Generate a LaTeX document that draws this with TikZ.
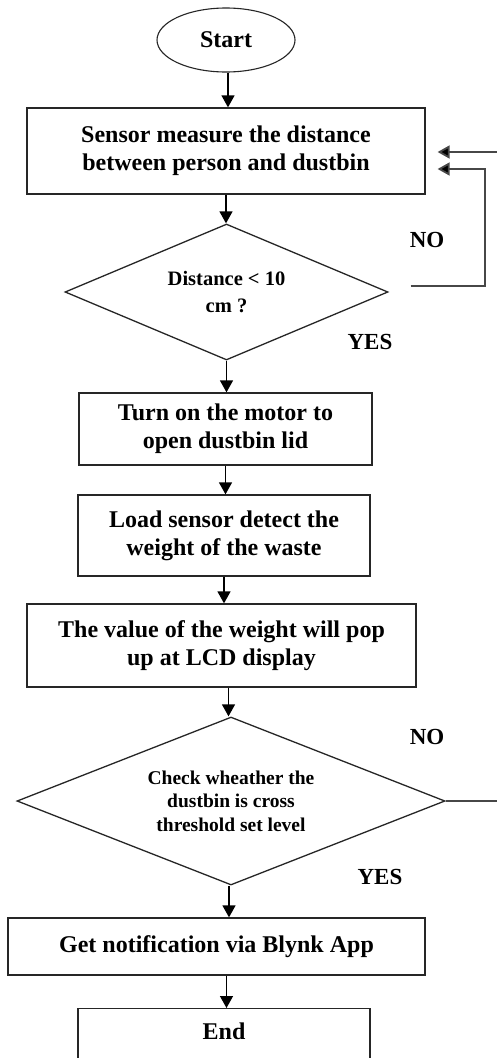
\documentclass[tikz,border=0pt]{standalone}
\usepackage{fontspec}
\setmainfont{Liberation Serif}
\usetikzlibrary{shapes.geometric,arrows.meta,calc}
\begin{document}
\begin{tikzpicture}[x=1pt,y=-1pt,
  every node/.style={font=\bfseries},
  boxnode/.style={draw=black!85, line width=1.3pt, rectangle, align=center,
    inner sep=0pt, font=\fontsize{24}{28}\selectfont\bfseries},
  startnode/.style={draw=black!85, line width=1.1pt, ellipse, inner sep=0pt,
    minimum width=138pt, minimum height=64pt, font=\fontsize{24}{28}\selectfont\bfseries},
  decide/.style={draw=black!85, line width=1.3pt, diamond, aspect=2.4,
    inner sep=0pt, align=center},
  flow/.style={draw=black, line width=1.3pt, -{Triangle[length=12pt,width=13pt]}},
  loopback/.style={draw=black!72, line width=1.8pt,
    -{Triangle[length=12pt,width=13pt,fill=black]}, shorten >=12pt},
  answer/.style={font=\fontsize{23}{26}\selectfont\bfseries}
]
\useasboundingbox (0,0) rectangle (496,1058);
\fill[white] (0,0) rectangle (496,1058);

% process steps
\node[startnode] (start) at (226,40) {Start};
\node[boxnode, minimum width=398pt, minimum height=86pt] (sense) at (226,151)
  {Sensor measure the distance\\between person and dustbin};
\node[decide, minimum width=323pt, minimum height=136pt,
  font=\fontsize{20.5}{27}\selectfont\bfseries] (near) at (226.5,292)
  {Distance < 10\\cm ?};
\node[boxnode, minimum width=293pt, minimum height=72pt] (motor) at (225.5,429)
  {Turn on the motor to\\open dustbin lid};
\node[boxnode, minimum width=292pt, minimum height=81pt] (load) at (224,535.5)
  {Load sensor detect the\\weight of the waste};
\node[boxnode, minimum width=389pt, minimum height=83pt] (lcd) at (221.5,645.5)
  {The value of the weight will pop\\up at LCD display};
\node[decide, minimum width=428pt, minimum height=168pt,
  font=\fontsize{19.5}{23.5}\selectfont\bfseries] (full) at (231,801)
  {Check wheather the\\dustbin is cross\\threshold set level};
\node[boxnode, minimum width=417pt, minimum height=57pt] (notify) at (216.5,946.5)
  {Get notification via Blynk App};
\node[boxnode, anchor=north, minimum width=292pt, text height=31pt, text depth=31pt]
  (finish) at (224,1008) {End};

% main flow
\draw[flow] ([xshift=2pt]start.south) -- ([xshift=2pt]start.south |- sense.north);
\draw[flow] (sense.south) -- (sense.south |- near.north);
\draw[flow] (near.south) -- (near.south |- motor.north);
\draw[flow] (motor.south) -- (motor.south |- load.north);
\draw[flow] (load.south) -- (load.south |- lcd.north);
\draw[flow] ([xshift=7pt]lcd.south) -- ([xshift=7pt]lcd.south |- full.north);
\draw[flow] ([xshift=-2pt]full.south) -- ([xshift=-2pt]full.south |- notify.north);
\draw[flow] ([xshift=10pt]notify.south) -- ([xshift=10pt]notify.south |- finish.north);

% NO branches back to the sensor step
\draw[loopback] ([shift={(22,-6)}]near.east) -- ++(74,0)
  |- (sense.east |- 0,169);
\draw[loopback] (full.east) -- ++(58,0) |- (sense.east |- 0,152);

% branch labels
\node[answer] (no1) at (427,240) {NO};
\node[answer] (yes1) at (370,342) {YES};
\node[answer] (no2) at (427,737) {NO};
\node[answer] (yes2) at (380,877) {YES};
\end{tikzpicture}
\end{document}
